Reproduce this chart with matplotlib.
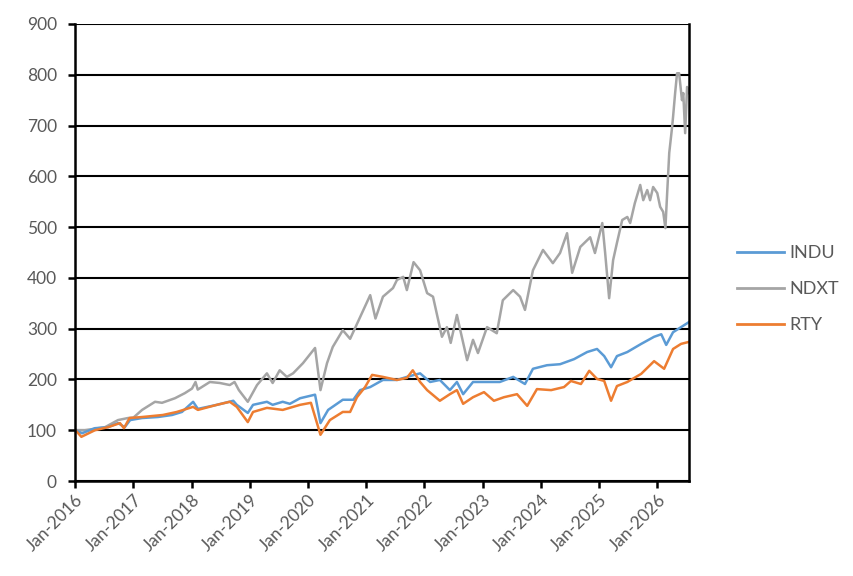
import matplotlib
matplotlib.use("Agg")
import matplotlib.pyplot as plt
import matplotlib.dates as mdates
import pandas as pd

# ---------------- data ----------------
ndxt_dates = ["2016-01-04","2016-03-03","2016-07-07","2016-09-27","2016-11-28","2017-01-02",
    "2017-02-25","2017-05-17","2017-06-30","2017-09-19","2017-11-20","2018-01-04","2018-01-26",
    "2018-02-09","2018-04-26","2018-06-28","2018-08-29","2018-09-28","2018-10-25","2018-12-20",
    "2019-02-16","2019-04-19","2019-05-25","2019-07-08","2019-08-22","2019-09-30","2019-12-01",
    "2020-02-15","2020-03-20","2020-04-30","2020-06-05","2020-08-07","2020-09-22","2020-11-24",
    "2021-01-26","2021-02-28","2021-04-16","2021-06-18","2021-07-13","2021-08-21","2021-09-13",
    "2021-10-25","2021-12-05","2022-01-18","2022-02-24","2022-04-21","2022-05-22","2022-06-15",
    "2022-07-24","2022-08-12","2022-09-26","2022-11-02","2022-12-03","2023-01-29","2023-03-31",
    "2023-05-08","2023-07-12","2023-08-24","2023-09-24","2023-11-13","2024-01-15","2024-03-17",
    "2024-05-01","2024-06-14","2024-07-16","2024-09-05","2024-11-06","2024-12-06","2025-01-21",
    "2025-02-08","2025-03-05","2025-03-30","2025-04-23","2025-05-26","2025-06-27","2025-07-15",
    "2025-08-13","2025-09-16","2025-10-05","2025-10-30","2025-11-17","2025-12-06","2026-01-01",
    "2026-01-19","2026-02-07","2026-02-21","2026-03-04","2026-03-17","2026-04-04","2026-04-10",
    "2026-04-23","2026-05-05","2026-05-18","2026-06-05","2026-06-13","2026-06-25","2026-07-07",
    "2026-07-19"]
ndxt_values = [100, 100, 106, 120, 124, 125,
    140, 156, 154, 163, 173, 182, 195,
    180, 195, 193, 189, 195, 179, 156,
    189, 212, 193, 218, 205, 212, 232,
    262, 179, 232, 264, 297, 280, 323,
    366, 320, 363, 380, 396, 402, 376,
    431, 415, 370, 363, 284, 303, 272,
    327, 300, 238, 278, 252, 303, 291,
    356, 376, 363, 337, 415, 455, 429,
    449, 488, 410, 461, 480, 449, 508,
    449, 360, 435, 469, 514, 520, 508,
    547, 583, 553, 573, 553, 579, 567,
    540, 530, 498, 567, 646, 697, 717,
    764, 803, 803, 750, 764, 685, 776,
    764]

indu_dates = ["2016-01-04","2016-02-14","2016-05-05","2016-07-26","2016-09-27","2016-11-08",
    "2016-12-12","2017-02-25","2017-06-04","2017-09-01","2017-11-02","2018-01-11","2018-02-10",
    "2018-06-09","2018-09-20","2018-10-12","2018-12-20","2019-01-22","2019-04-19","2019-05-25",
    "2019-07-27","2019-09-10","2019-11-13","2020-02-15","2020-03-20","2020-05-07","2020-08-07",
    "2020-10-12","2020-11-24","2021-01-26","2021-04-16","2021-07-13","2021-09-13","2021-12-05",
    "2022-02-06","2022-04-08","2022-06-10","2022-07-24","2022-09-01","2022-11-02","2023-01-29",
    "2023-04-19","2023-07-12","2023-09-24","2023-11-13","2024-02-09","2024-05-01","2024-07-28",
    "2024-10-18","2024-12-19","2025-02-02","2025-03-17","2025-04-23","2025-06-27","2025-09-22",
    "2025-12-12","2026-01-26","2026-02-26","2026-04-10","2026-05-30","2026-07-19"]
indu_values = [100, 94, 104, 106, 114, 106,
    120, 124, 126, 130, 136, 156, 142,
    150, 158, 150, 134, 150, 156, 150,
    156, 152, 163, 170, 114, 140, 160,
    160, 179, 185, 199, 199, 205, 212,
    195, 199, 179, 195, 171, 195, 195,
    195, 205, 191, 221, 228, 230, 240,
    254, 260, 246, 224, 246, 254, 270,
    284, 289, 268, 293, 303, 313]

rty_dates = ["2016-01-04","2016-02-10","2016-05-05","2016-07-26","2016-10-09","2016-11-03",
    "2016-12-08","2017-02-25","2017-07-05","2017-10-01","2018-01-11","2018-02-10","2018-06-09",
    "2018-08-29","2018-10-12","2018-12-20","2019-01-22","2019-04-19","2019-07-27","2019-11-13",
    "2020-01-20","2020-03-20","2020-05-18","2020-08-07","2020-09-22","2020-11-04","2020-12-25",
    "2021-02-07","2021-04-16","2021-07-13","2021-09-13","2021-10-20","2021-12-05","2022-01-18",
    "2022-04-08","2022-06-10","2022-07-24","2022-09-01","2022-11-02","2023-01-10","2023-03-13",
    "2023-05-15","2023-08-05","2023-10-08","2023-12-08","2024-03-06","2024-05-26","2024-07-08",
    "2024-09-09","2024-10-31","2024-12-19","2025-02-02","2025-03-17","2025-04-23","2025-06-27",
    "2025-09-22","2025-12-12","2026-02-13","2026-04-10","2026-05-30","2026-07-19"]
rty_values = [100, 87, 100, 106, 114, 104,
    124, 126, 130, 136, 146, 140, 150,
    156, 146, 116, 136, 144, 140, 150,
    154, 91, 120, 136, 136, 165, 185,
    209, 205, 199, 203, 218, 195, 179,
    158, 171, 179, 152, 165, 175, 158,
    165, 171, 148, 181, 179, 185, 197,
    191, 217, 201, 197, 158, 187, 195,
    211, 236, 221, 260, 270, 274]

series_names = ["INDU", "NDXT", "RTY"]
series_colors = ["#5B9BD5", "#A5A5A5", "#ED7D31"]
tick_years = list(range(2016, 2027))
y_ticks = list(range(0, 1000, 100))

# ---------------- figure ----------------
plt.rcParams['font.family'] = ['Lato', 'DejaVu Sans']
fig = plt.figure(figsize=(8.54, 5.76), dpi=100)
ax = fig.add_axes([75/854, 1-481/576, (689-75)/854, (481-24)/576])

data = [(indu_dates, indu_values), (ndxt_dates, ndxt_values), (rty_dates, rty_values)]
# draw order: NDXT, INDU, RTY (orange on top)
for idx in [1, 0, 2]:
    d, v = data[idx]
    ax.plot(pd.to_datetime(d), v, color=series_colors[idx], lw=1.8,
            label=series_names[idx], solid_joinstyle='round')

start = pd.to_datetime(ndxt_dates[0])
end = pd.to_datetime(ndxt_dates[-1])
ax.set_xlim(start, end)
ax.set_ylim(0, 900)
ax.set_yticks(y_ticks)
ax.set_xticks([pd.Timestamp(f"{y}-01-01") for y in tick_years])
ax.xaxis.set_major_formatter(mdates.DateFormatter("%b-%Y"))

ax.yaxis.grid(True, color='black', lw=1.5)
ax.set_axisbelow(True)
for s in ['left', 'bottom', 'right']:
    ax.spines[s].set_color('black')
    ax.spines[s].set_linewidth(1.8)
ax.spines['top'].set_visible(False)

ax.tick_params(axis='both', which='major', direction='out', length=5, width=1.8,
               color='black', labelcolor='#595959', labelsize=12.5)
ax.tick_params(axis='x', pad=3)
ax.tick_params(axis='y', pad=8)
for lab in ax.get_xticklabels():
    lab.set_rotation(45)
    lab.set_ha('right')
    lab.set_rotation_mode('anchor')

handles, labels = ax.get_legend_handles_labels()
order = [labels.index(n) for n in series_names]
leg = fig.legend([handles[i] for i in order], [labels[i] for i in order],
                 loc='center left', bbox_to_anchor=(737/854, 1-289/576),
                 frameon=False, fontsize=13, handlelength=2.6, handletextpad=0.3,
                 labelspacing=1.1, borderpad=0, borderaxespad=0)
for t in leg.get_texts():
    t.set_color('#595959')
for l in leg.get_lines():
    l.set_linewidth(2.0)

fig.savefig("out.png", dpi=100)
